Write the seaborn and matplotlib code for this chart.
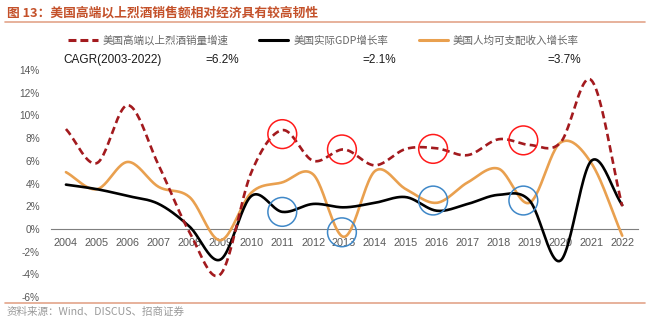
import numpy as np
import pandas as pd
import matplotlib
matplotlib.use("Agg")
import matplotlib.pyplot as plt
from matplotlib.lines import Line2D
from matplotlib.font_manager import FontProperties
import seaborn as sns

# ---------------- data ----------------
years = ["2004", "2005", "2006", "2007", "2008", "2009", "2010", "2011", "2012", "2013",
         "2014", "2015", "2016", "2017", "2018", "2019", "2020", "2021", "2022"]
spirits_growth = [8.8, 5.8, 10.9, 5.6, -0.3, -4.0, 5.0, 8.7, 6.0, 7.0,
                  5.6, 7.05, 7.1, 6.5, 7.9, 7.4, 7.6, 13.1, 2.0]
gdp_growth = [3.9, 3.5, 2.9, 2.2, 0.2, -2.7, 2.9, 1.5, 2.2, 1.9,
              2.3, 2.8, 1.6, 2.2, 3.0, 2.5, -2.8, 6.0, 2.1]
income_growth = [5.0, 3.5, 5.9, 3.7, 2.8, -1.0, 3.2, 4.1, 4.8, -0.7,
                 5.1, 3.5, 2.3, 4.1, 5.3, 2.3, 7.6, 5.8, -0.6]
series_names = ["美国高端以上烈酒销量增速", "美国实际GDP增长率", "美国人均可支配收入增长率"]
cagr_label = "CAGR(2003-2022)"
cagr_values = ["=6.2%", "=2.1%", "=3.7%"]
yticks = [-6, -4, -2, 0, 2, 4, 6, 8, 10, 12, 14]

circle_years = ["2011", "2013", "2016", "2019"]
red_circle_y = [8.35, 7.0, 7.05, 7.8]
blue_circle_y = [1.5, -0.3, 2.5, 2.5]

title = "图 13：美国高端以上烈酒销售额相对经济具有较高韧性"
source = "资料来源：Wind、DISCUS、招商证券"

# ---------------- style ----------------
sns.set_style("white")
plt.rcParams["font.family"] = ["Liberation Sans", "Noto Sans CJK SC", "DejaVu Sans"]
CJK = ["Noto Sans CJK SC", "DejaVu Sans"]

RED = "#A31A1E"
ORANGE = "#E9A04F"
BLACK = "#000000"
GRAY = "#595959"


def smooth(xv, yv, n=24):
    """Catmull-Rom rendering of a line through the data points (Excel-like smoothed line)."""
    xv = np.asarray(xv, float)
    yv = np.asarray(yv, float)
    px = np.concatenate([[2 * xv[0] - xv[1]], xv, [2 * xv[-1] - xv[-2]]])
    py = np.concatenate([[2 * yv[0] - yv[1]], yv, [2 * yv[-1] - yv[-2]]])
    outx, outy = [], []
    t = np.linspace(0, 1, n, endpoint=False)
    for i in range(1, len(px) - 2):
        for arr, p in ((outx, px), (outy, py)):
            p0, p1, p2, p3 = p[i - 1], p[i], p[i + 1], p[i + 2]
            m1 = (p2 - p0) / 2
            m2 = (p3 - p1) / 2
            h00 = 2 * t**3 - 3 * t**2 + 1
            h10 = t**3 - 2 * t**2 + t
            h01 = -2 * t**3 + 3 * t**2
            h11 = t**3 - t**2
            arr.extend(h00 * p1 + h10 * m1 + h01 * p2 + h11 * m2)
    outx.append(xv[-1])
    outy.append(yv[-1])
    return np.array(outx), np.array(outy)


fig = plt.figure(figsize=(6.49, 3.22), dpi=100)
ax = fig.add_axes([50.5 / 649, 1 - 297 / 322, (637.7 - 50.5) / 649, (297 - 70) / 322])

idx = np.arange(len(years))
df = pd.DataFrame({"x": idx, "spirits": spirits_growth, "gdp": gdp_growth, "income": income_growth})

for col, color, ls in (("income", ORANGE, "-"), ("gdp", BLACK, "-"), ("spirits", RED, (0, (2.8, 1.6)))):
    sx, sy = smooth(df["x"], df[col])
    sns.lineplot(x=sx, y=sy, ax=ax, color=color, linewidth=1.9, linestyle=ls,
                 sort=False, estimator=None, zorder=3 if col != "spirits" else 4)

cpos = [years.index(y) for y in circle_years]
cshift = [0.0, -0.07, -0.12, -0.2]
cx = np.array(cpos) + np.array(cshift)
ax.scatter(cx, red_circle_y, s=430, facecolors="none", edgecolors="#FF1A1A", linewidths=1.1, zorder=5)
ax.scatter(cx, blue_circle_y, s=430, facecolors="none", edgecolors="#3F88C8", linewidths=1.1, zorder=5)

ax.set_xlim(-0.5, len(years) - 0.5)
ax.set_ylim(-6, 14)
ax.set_yticks(yticks)
ax.set_yticklabels([f"{v}%" for v in yticks])
ax.set_xticks(idx)
ax.set_xticklabels(years)
ax.set_xticks(np.arange(-0.5, len(years), 1.0), minor=True)
ax.tick_params(axis="x", which="major", length=0, pad=6.8, labelsize=7.8, labelcolor=GRAY)
ax.tick_params(axis="x", which="minor", length=3, direction="in", color="#7f7f7f", width=0.8)
ax.tick_params(axis="y", length=0, pad=7.6, labelsize=7.3, labelcolor=GRAY)
for s in ("top", "right", "left"):
    ax.spines[s].set_visible(False)
ax.spines["bottom"].set_position(("data", 0))
ax.spines["bottom"].set_color("#7f7f7f")
ax.spines["bottom"].set_linewidth(0.8)
ax.grid(False)
ax.set_xlabel("")
ax.set_ylabel("")

# legend
handles = [Line2D([], [], color=RED, lw=2.2, linestyle=(0, (2.6, 1.3))),
           Line2D([], [], color=BLACK, lw=2.2),
           Line2D([], [], color=ORANGE, lw=2.2)]
leg = fig.legend(handles, series_names, loc="center left", bbox_to_anchor=(68 / 649, 1 - 40.7 / 322),
                 ncol=3, frameon=False, handlelength=2.8, handletextpad=0.45, columnspacing=2.9,
                 borderpad=0, borderaxespad=0, prop=FontProperties(family=CJK, size=7.6))
for t in leg.get_texts():
    t.set_color("#666666")

# CAGR row
yc = 1 - 59.7 / 322
fig.text(63 / 649, yc, cagr_label, fontsize=8.5, va="center", ha="left", color="#1a1a1a")
for xpx, v in zip([205, 362, 547], cagr_values):
    fig.text(xpx / 649, yc, v, fontsize=8.5, va="center", ha="left", color="#1a1a1a")

# title and source
fig.text(7 / 649, 1 - 13.3 / 322, title, fontsize=9.2, fontweight="bold", va="center", ha="left",
         color="#C4512A", family=CJK)
fig.add_artist(Line2D([5 / 649, 645 / 649], [1 - 21.5 / 322] * 2, color="#E3A48A", lw=1.2))
fig.add_artist(Line2D([5 / 649, 645 / 649], [1 - 303 / 322] * 2, color="#E3A48A", lw=1.2))
fig.text(7 / 649, 1 - 311.5 / 322, source, fontsize=7.6, va="center", ha="left", color="#9a9a9a", family=CJK)

fig.savefig("out.png", dpi=100)
